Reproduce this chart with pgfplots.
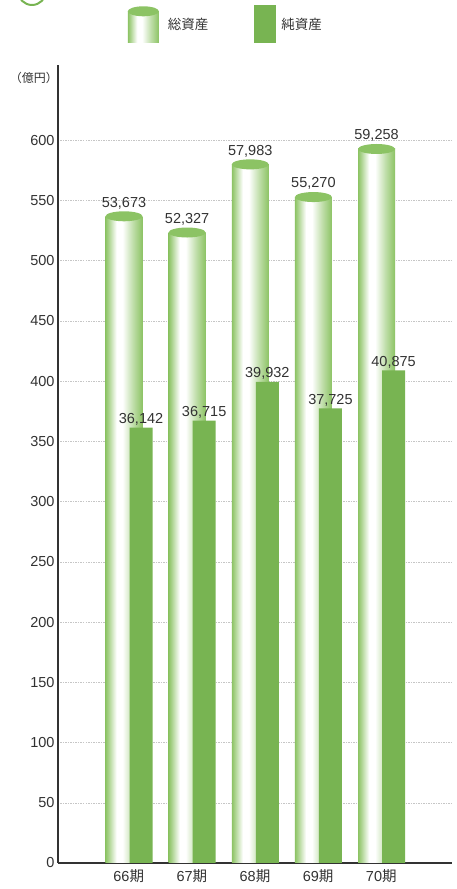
\documentclass[border=0pt]{standalone}
\usepackage{pgfplots}
\pgfplotsset{compat=1.18}
\usepackage{pgfplotstable}
\usepackage{fontspec}
\setmainfont{Liberation Sans}
\newfontfamily\jp{Noto Sans CJK JP}

\definecolor{netgreen}{RGB}{120,180,82}
\definecolor{cylgreen}{RGB}{140,195,100}
\definecolor{txt}{RGB}{50,50,50}

% cylinder look: green edges, white highlight left of centre
\pgfdeclarehorizontalshading{cyl}{100bp}{color(0bp)=(cylgreen); color(25bp)=(cylgreen); color(29bp)=(cylgreen!75); color(40bp)=(white); color(48bp)=(white); color(62bp)=(cylgreen!55); color(75bp)=(cylgreen); color(100bp)=(cylgreen)}

\pgfdeclareplotmark{cyltop}{%
  \pgfpathellipse{\pgfpointorigin}{\pgfqpoint{18.5pt}{0pt}}{\pgfqpoint{0pt}{5pt}}%
  \pgfusepathqfill}

% values in 億円 (labels in 百万円)
\pgfplotstableread{
xt     xn    total  net    tl     nl
-0.075 0.195 536.73 361.42 53,673 36,142
0.925  1.195 523.27 367.15 52,327 36,715
1.925  2.195 579.83 399.32 57,983 39,932
2.925  3.195 552.70 377.25 55,270 37,725
3.925  4.195 592.58 408.75 59,258 40,875
}\data

\pgfplotsset{cylbar/.style={ybar, bar width=37pt, draw=none, shading=cyl, forget plot}}

\begin{document}
\begin{tikzpicture}
\useasboundingbox (-58pt,-26pt) rectangle (398pt,863pt);
\begin{axis}[
    scale only axis,
    width=394pt, height=798pt,
    xmin=-1.12, xmax=5.12,
    ymin=0, ymax=662.3,
    axis x line=bottom, axis y line=left,
    axis line style={-, line width=2pt, draw=txt},
    xtick={0,...,4},
    xticklabels={66{\jp 期}, 67{\jp 期}, 68{\jp 期}, 69{\jp 期}, 70{\jp 期}},
    ytick={0,50,...,600},
    major tick length=0pt,
    ymajorgrids,
    grid style={gray!45, line width=0.5pt, dash pattern=on 1.5pt off 1pt},
    tick label style={font=\fontsize{14.5}{16}\selectfont, text=txt},
    /pgf/number format/assume math mode=true,
    xticklabel style={yshift=-3pt},
    clip=false,
    legend style={draw=none, fill=none, at={(0.426,1.051)}, anchor=center,
        legend columns=2, font=\jp\fontsize{13.5}{15}\selectfont, text=txt,
        /tikz/every even column/.append style={column sep=44pt}},
    nodes near coords style={font=\fontsize{14.5}{16}\selectfont, text=txt, anchor=south, inner sep=2pt},
]
% one plot per cylinder so that each bar gets its own shading
\addplot[cylbar, restrict x to domain=-1:0] table[x=xt, y=total] {\data};
\addplot[cylbar, restrict x to domain=0:1] table[x=xt, y=total] {\data};
\addplot[cylbar, restrict x to domain=1:2] table[x=xt, y=total] {\data};
\addplot[cylbar, restrict x to domain=2:3] table[x=xt, y=total] {\data};
\addplot[cylbar, restrict x to domain=3:4] table[x=xt, y=total] {\data};
\addplot[only marks, mark=cyltop, color=cylgreen, mark options={fill=cylgreen, draw=none},
    forget plot, nodes near coords, point meta=explicit symbolic,
    every node near coord/.append style={yshift=5pt}]
    table[x=xt, y=total, meta=tl] {\data};
\addplot[ybar, bar width=23pt, fill=netgreen, draw=none, forget plot,
    nodes near coords, point meta=explicit symbolic]
    table[x=xn, y=net, meta=nl] {\data};

\addlegendimage{legend image code/.code={
    \shade[shading=cyl, draw=none] (0pt,-18pt) rectangle (31pt,13pt);
    \fill[cylgreen, draw=none] (15.5pt,13pt) ellipse (15.5pt and 5pt);
    \path[draw=none, fill=none] (0pt,0pt) -- (38pt,0pt);}}
\addlegendentry{総資産}
\addlegendimage{legend image code/.code={
    \fill[netgreen, draw=none] (0pt,-19pt) rectangle (22pt,19pt);
    \path[draw=none, fill=none] (0pt,0pt) -- (25pt,0pt);}}
\addlegendentry{純資産}

\node[font=\jp\fontsize{12}{14}\selectfont, text=txt] at (rel axis cs:-0.061,0.984) {（億円）};
\end{axis}
\draw[netgreen, line width=2pt] (-26pt,872pt) circle (14pt);
\end{tikzpicture}
\end{document}
